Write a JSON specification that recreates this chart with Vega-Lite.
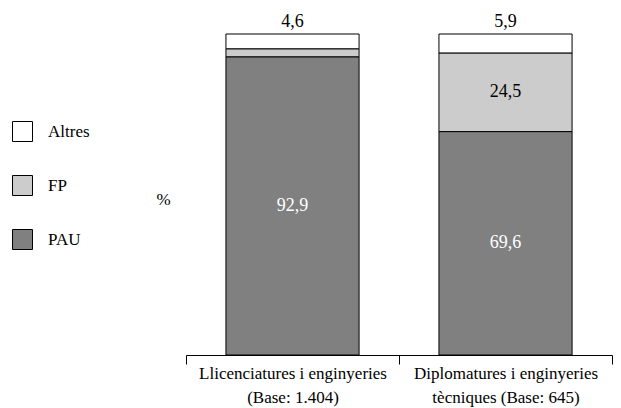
{
  "$schema": "https://vega.github.io/schema/vega-lite/v6.json",
  "autosize": "none",
  "width": 426,
  "height": 321,
  "padding": {"left": 186, "top": 34, "right": 9, "bottom": 53},
  "background": "white",
  "config": {
    "view": {"stroke": null},
    "font": "Liberation Serif",
    "text": {"font": "Liberation Serif", "fontSize": 18},
    "axisY": {
      "title": "%",
      "titleAngle": 0,
      "titleAlign": "center",
      "titleBaseline": "middle",
      "titleX": -23,
      "titleY": 165,
      "titleFont": "Liberation Serif",
      "titleFontSize": 17,
      "titleFontWeight": "normal",
      "titleColor": "black",
      "labels": false,
      "ticks": false,
      "domain": false,
      "grid": false
    }
  },
  "data": {
    "values": [
      {"cat": "Llicenciatures i enginyeries|(Base: 1.404)", "serie": "PAU", "v": 92.9, "txt": "92,9"},
      {"cat": "Llicenciatures i enginyeries|(Base: 1.404)", "serie": "FP", "v": 2.5, "txt": ""},
      {"cat": "Llicenciatures i enginyeries|(Base: 1.404)", "serie": "Altres", "v": 4.6, "txt": "4,6"},
      {"cat": "Diplomatures i enginyeries|tècniques (Base: 645)", "serie": "PAU", "v": 69.6, "txt": "69,6"},
      {"cat": "Diplomatures i enginyeries|tècniques (Base: 645)", "serie": "FP", "v": 24.5, "txt": "24,5"},
      {"cat": "Diplomatures i enginyeries|tècniques (Base: 645)", "serie": "Altres", "v": 5.9, "txt": "5,9"}
    ]
  },
  "transform": [
    {"stack": "v", "groupby": ["cat"], "as": ["y0", "y1"], "sort": [{"field": "serie", "order": "descending"}]},
    {"calculate": "(datum.y0 + datum.y1) / 2", "as": "mid"}
  ],
  "encoding": {
    "x": {
      "field": "cat",
      "type": "nominal",
      "sort": null,
      "scale": {"paddingInner": 0, "paddingOuter": 0},
      "axis": {
        "title": null,
        "labelAngle": 0,
        "labelExpr": "split(datum.label, '|')",
        "labelFont": "Liberation Serif",
        "labelFontSize": 17,
        "labelColor": "black",
        "labelLineHeight": 24,
        "labelPadding": 1,
        "tickBand": "extent",
        "tickSize": 9,
        "tickColor": "black",
        "domainColor": "black",
        "labelLimit": 300
      }
    }
  },
  "layer": [
    {
      "mark": {"type": "bar", "width": {"band": 0.625}, "stroke": "black", "strokeWidth": 1},
      "encoding": {
        "y": {
          "field": "y0",
          "type": "quantitative",
          "title": "%",
          "scale": {"domain": [0, 100], "nice": false}
        },
        "y2": {"field": "y1"},
        "color": {
          "field": "serie",
          "type": "nominal",
          "scale": {"domain": ["Altres", "FP", "PAU"], "range": ["#ffffff", "#cccccc", "#808080"]},
          "legend": {
            "title": null,
            "orient": "none",
            "legendX": -174,
            "legendY": 87,
            "direction": "vertical",
            "symbolType": "square",
            "symbolSize": 400,
            "symbolStrokeColor": "black",
            "symbolStrokeWidth": 1,
            "symbolOpacity": 1,
            "labelFont": "Liberation Serif",
            "labelFontSize": 17,
            "labelColor": "black",
            "labelOffset": 15,
            "rowPadding": 29
          }
        }
      }
    },
    {
      "transform": [{"filter": "datum.serie !== 'Altres' && datum.txt !== ''"}],
      "mark": {"type": "text", "baseline": "middle", "align": "center"},
      "encoding": {
        "y": {"field": "mid", "type": "quantitative", "title": "%"},
        "text": {"field": "txt"},
        "color": {"condition": {"test": "datum.serie === 'PAU'", "value": "white"}, "value": "black"}
      }
    },
    {
      "transform": [{"filter": "datum.serie === 'Altres'"}],
      "mark": {"type": "text", "baseline": "bottom", "align": "center", "dy": -3, "color": "black"},
      "encoding": {
        "y": {"field": "y1", "type": "quantitative", "title": "%"},
        "text": {"field": "txt"}
      }
    }
  ]
}
